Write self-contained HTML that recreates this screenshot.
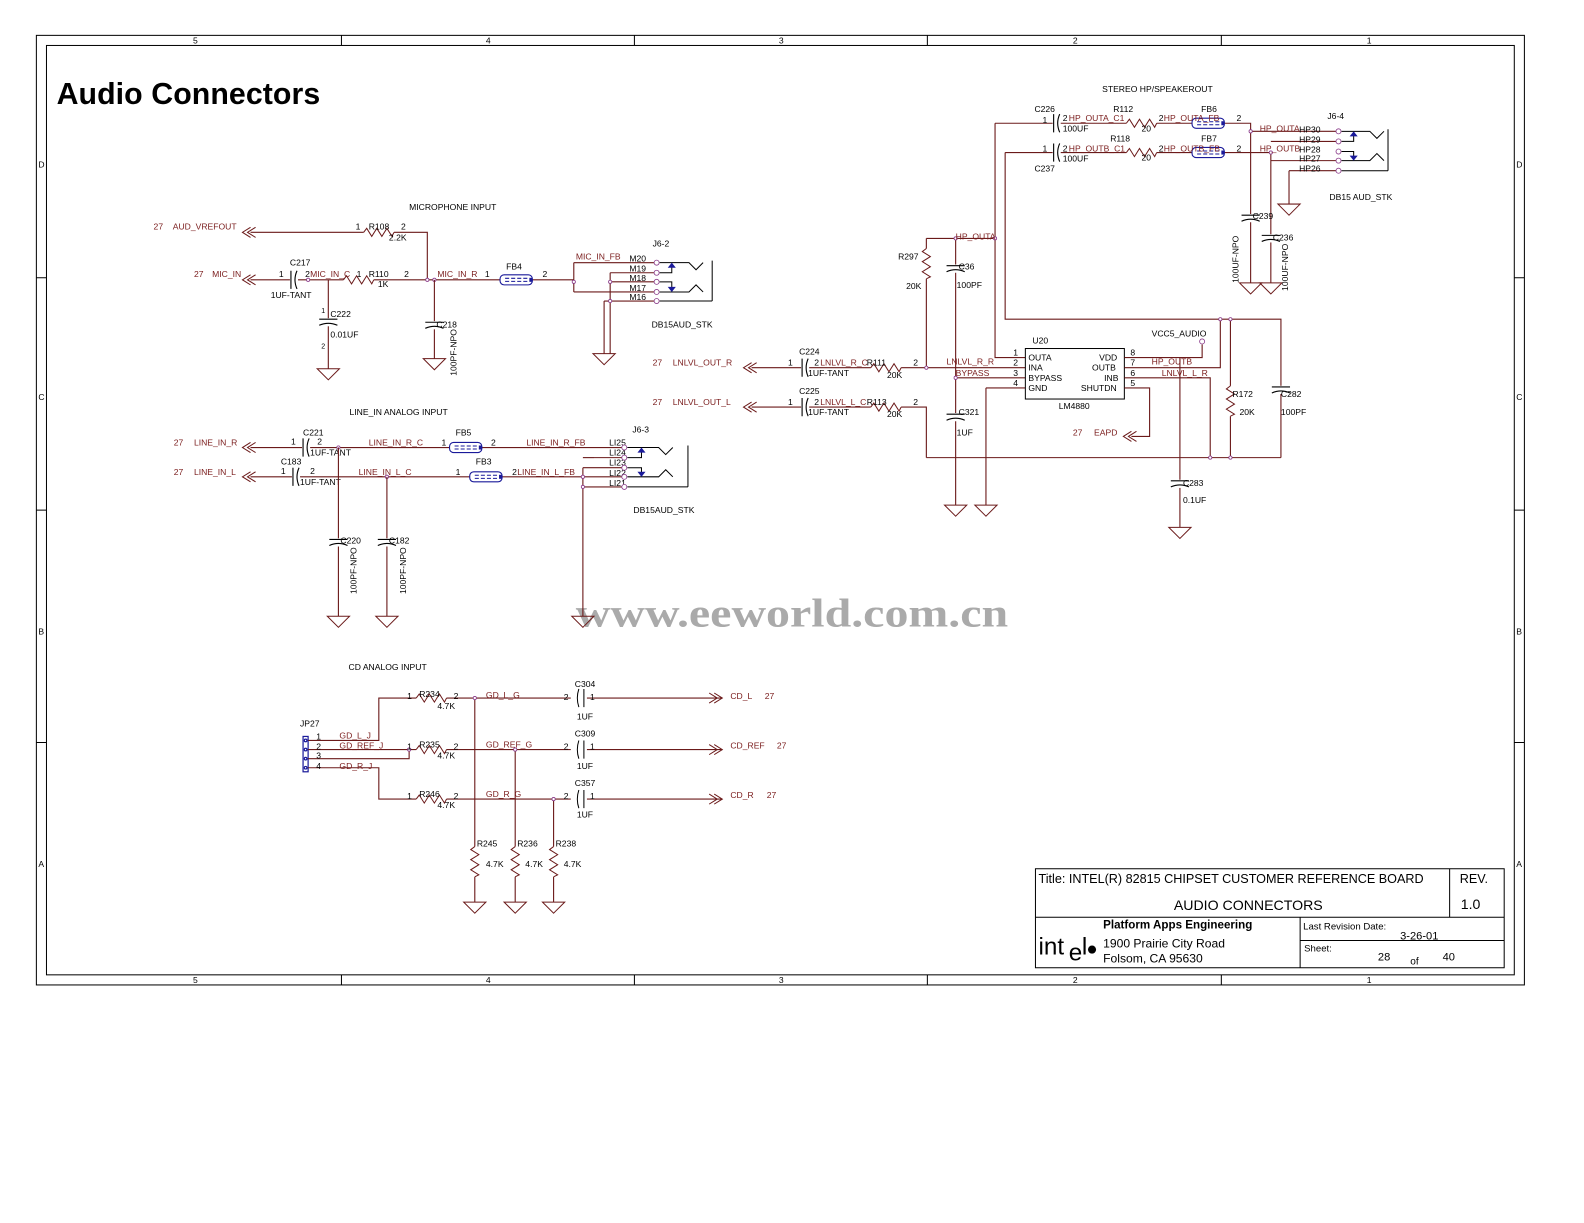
<!DOCTYPE html>
<html><head><meta charset="utf-8"><style>
html,body{margin:0;padding:0;background:#fff;}
svg{display:block;}
text{font-family:"Liberation Sans",sans-serif;font-size:8.5px;fill:#000;}
.n{fill:#7a1c1c;}
.w{stroke:#6b1a1a;stroke-width:1.1;fill:none;}
.k{stroke:#000;stroke-width:1;fill:none;}
.b{stroke:#1a1a9a;stroke-width:1.2;fill:none;}
.d{fill:#fff;stroke:#8a3a8a;stroke-width:0.8;}
</style></head><body>
<svg width="1584" height="1223" viewBox="0 0 1584 1223" xmlns="http://www.w3.org/2000/svg">
<defs>
<path id="gnd" d="M-11,0 H11 L0,11 Z" fill="none" stroke="#6b1a1a" stroke-width="1"/>
<path id="rh" d="M0,0 l3,-4 l5,8 l5,-8 l5,8 l5,-8 l5,8 l2,-4" fill="none" stroke="#6b1a1a" stroke-width="1"/>
<path id="rv" d="M0,0 l-4,3 l8,5 l-8,5 l8,5 l-8,5 l8,5 l-4,2" fill="none" stroke="#6b1a1a" stroke-width="1"/>
<g id="ch"><rect x="-2" y="-10" width="8" height="20" fill="#fff" stroke="none"/><path d="M-1,-9 V9 M5,-9 Q1,0 5,9" fill="none" stroke="#000" stroke-width="1.1"/></g>
<g id="cv"><rect x="-10" y="-2" width="20" height="8" fill="#fff" stroke="none"/><path d="M-9,-1 H9 M-9,5 Q0,1 9,5" fill="none" stroke="#000" stroke-width="1.1"/></g>
<g id="fb"><rect x="0" y="-5" width="32" height="10" rx="4" fill="#fff" stroke="#1a1a9a" stroke-width="1.1"/><path d="M5,-1.5 H27 M5,1.5 H27" stroke="#1a1a9a" stroke-width="1" stroke-dasharray="4,2"/><rect x="29" y="-2" width="3" height="4" fill="#1a1a9a"/></g>
<path id="arr" d="M8,-5 L0,0 L8,5 M13,-5 L5,0 L13,5" fill="none" stroke="#6b1a1a" stroke-width="1"/>
<path id="arrr" d="M-8,-5 L0,0 L-8,5 M-13,-5 L-5,0 L-13,5" fill="none" stroke="#6b1a1a" stroke-width="1"/>
</defs>
<g transform="scale(1.0102)">
<rect x="36" y="35" width="1473" height="940" fill="none" stroke="#000" stroke-width="1"/>
<rect x="46" y="45" width="1453" height="920" fill="none" stroke="#000" stroke-width="1"/>
<path class="k" d="M338,35V45 M628,35V45 M918,35V45 M1209,35V45 M338,965V975 M628,965V975 M918,965V975 M1209,965V975 M36,275H46 M36,505H46 M36,735H46 M1499,275H1509 M1499,505H1509 M1499,735H1509"/>
<g style="font-size:7px">
<text x="191" y="43">5</text><text x="481" y="43">4</text><text x="771" y="43">3</text><text x="1062" y="43">2</text><text x="1353" y="43">1</text>
<text x="191" y="973">5</text><text x="481" y="973">4</text><text x="771" y="973">3</text><text x="1062" y="973">2</text><text x="1353" y="973">1</text>
<text x="38" y="166">D</text><text x="38" y="396">C</text><text x="38" y="628">B</text><text x="38" y="858">A</text>
<text x="1501" y="166">D</text><text x="1501" y="396">C</text><text x="1501" y="628">B</text><text x="1501" y="858">A</text>
</g>
<text x="56" y="103" style="font-size:30px;font-weight:bold" textLength="261">Audio Connectors</text>

<text x="570" y="620" style="font-family:'Liberation Serif',serif;font-size:40px;font-weight:bold;fill:#aaa" textLength="428" lengthAdjust="spacingAndGlyphs">www.eeworld.com.cn</text>

<!-- MICROPHONE -->
<text x="405" y="208">MICROPHONE INPUT</text>
<text class="n" x="152" y="227">27</text><text class="n" x="171" y="227">AUD_VREFOUT</text>
<use href="#arr" x="240" y="230"/>
<path class="w" d="M248,230H360 M390,230H423V277"/>
<use href="#rh" x="360" y="230"/>
<text x="365" y="227">R108</text><text x="352" y="227">1</text><text x="397" y="227">2</text><text x="385" y="238">2.2K</text>
<text class="n" x="192" y="274">27</text><text class="n" x="210" y="274">MIC_IN</text>
<use href="#arr" x="240" y="277"/>
<path class="w" d="M248,277H288 M294,277H340 M370,277H497 M527,277H568"/>
<use href="#ch" x="289" y="277"/>
<text x="287" y="263">C217</text><text x="276" y="274">1</text><text x="302" y="274">2</text><text class="n" x="307" y="274">MIC_IN_C</text>
<text x="268" y="295">1UF-TANT</text>
<use href="#rh" x="340" y="277"/>
<text x="365" y="274">R110</text><text x="353" y="274">1</text><text x="400" y="274">2</text><text x="374" y="284">1K</text>
<text class="n" x="433" y="274">MIC_IN_R</text><text x="480" y="274">1</text><text x="537" y="274">2</text>
<use href="#fb" x="495" y="277"/><text x="501" y="267">FB4</text>
<circle class="d" cx="305" cy="277" r="1.6"/><circle class="d" cx="423" cy="277" r="1.6"/><circle class="d" cx="430" cy="277" r="1.6"/>
<path class="w" d="M325,277V316 M325,322V365 M430,277V318 M430,324V355"/>
<use href="#cv" x="325" y="317"/><use href="#cv" x="430" y="320"/>
<use href="#gnd" x="325" y="365"/><use href="#gnd" x="430" y="355"/>
<text x="327" y="314">C222</text><text x="327" y="334">0.01UF</text><text x="318" y="310" style="font-size:7px">1</text><text x="318" y="345" style="font-size:7px">2</text>
<text x="432" y="324">C218</text><text x="452" y="372" transform="rotate(-90 452 372)">100PF-NPO</text>
<path class="w" d="M568,260V289 M568,260H650 M568,289H650 M604,270H650 M604,279H650 M604,270V350 M598,298H650"/>
<use href="#gnd" x="598" y="350"/><path class="w" d="M598,298V350"/>
<circle class="d" cx="568" cy="279" r="1.6"/><circle class="d" cx="604" cy="279" r="1.6"/><circle class="d" cx="604" cy="298" r="1.6"/>
<text class="n" x="570" y="257">MIC_IN_FB</text>
<text x="623" y="259">M20</text><text x="623" y="269">M19</text><text x="623" y="278">M18</text><text x="623" y="288">M17</text><text x="623" y="297">M16</text>
<text x="646" y="244">J6-2</text><text x="645" y="324">DB15AUD_STK</text>
<g class="k"><path d="M653,260H682L689,267L696,260 M653,270H665V262 M653,279H665V287 M653,289H682L689,282L696,289 M653,298H705 M705,258V298"/></g>
<path d="M661,265L665,260L669,265Z M661,284L665,289L669,284Z" fill="#1a1a9a"/>
<g class="d"><circle cx="650" cy="260" r="2.5"/><circle cx="650" cy="270" r="2.5"/><circle cx="650" cy="279" r="2.5"/><circle cx="650" cy="289" r="2.5"/><circle cx="650" cy="298" r="2.5"/></g>

<!-- LINE IN -->
<text x="346" y="411">LINE_IN ANALOG INPUT</text>
<text class="n" x="172" y="441">27</text><text class="n" x="192" y="441">LINE_IN_R</text>
<text class="n" x="172" y="470">27</text><text class="n" x="192" y="470">LINE_IN_L</text>
<use href="#arr" x="240" y="443"/><use href="#arr" x="240" y="472"/>
<path class="w" d="M248,443H300 M306,443H445 M477,443H618 M248,472H290 M296,472H465 M497,472H618"/>
<use href="#ch" x="301" y="443"/><use href="#ch" x="291" y="472"/>
<text x="300" y="431">C221</text><text x="288" y="440">1</text><text x="314" y="440">2</text><text x="307" y="451">1UF-TANT</text>
<text x="278" y="460">C183</text><text x="278" y="469">1</text><text x="307" y="469">2</text><text x="297" y="480">1UF-TANT</text>
<text class="n" x="365" y="441">LINE_IN_R_C</text><text x="437" y="441">1</text><text x="486" y="441">2</text>
<text class="n" x="355" y="470">LINE_IN_L_C</text><text x="451" y="470">1</text><text x="507" y="470">2</text>
<use href="#fb" x="445" y="443"/><use href="#fb" x="465" y="472"/>
<text x="451" y="431">FB5</text><text x="471" y="460">FB3</text>
<text class="n" x="521" y="441">LINE_IN_R_FB</text><text class="n" x="512" y="470">LINE_IN_L_FB</text>
<circle class="d" cx="335" cy="443" r="1.6"/><circle class="d" cx="383" cy="472" r="1.6"/>
<path class="w" d="M335,443V533 M335,539V610 M383,472V533 M383,539V610"/>
<use href="#cv" x="335" y="535"/><use href="#cv" x="383" y="535"/>
<use href="#gnd" x="335" y="610"/><use href="#gnd" x="383" y="610"/>
<text x="337" y="538">C220</text><text x="385" y="538">C182</text>
<text x="353" y="588" transform="rotate(-90 353 588)">100PF-NPO</text><text x="402" y="588" transform="rotate(-90 402 588)">100PF-NPO</text>
<path class="w" d="M577,463V610 M577,463H618 M577,482H618 M588,453H618"/>
<path class="w" d="M577,453H588"/>
<use href="#gnd" x="577" y="610"/>
<circle class="d" cx="577" cy="472" r="1.6"/><circle class="d" cx="577" cy="482" r="1.6"/>
<text x="603" y="441">LI25</text><text x="603" y="451">LI24</text><text x="603" y="461">LI23</text><text x="603" y="471">LI22</text><text x="603" y="481">LI21</text>
<text x="626" y="428">J6-3</text><text x="627" y="508">DB15AUD_STK</text>
<g class="k"><path d="M621,443H652L659,450L666,443 M621,453H635V446 M621,463H635V470 M621,472H652L659,465L666,472 M621,482H681 M681,441V482"/></g>
<path d="M631,448L635,443L639,448Z M631,467L635,472L639,467Z" fill="#1a1a9a"/>
<g class="d"><circle cx="618" cy="443" r="2.5"/><circle cx="618" cy="453" r="2.5"/><circle cx="618" cy="463" r="2.5"/><circle cx="618" cy="472" r="2.5"/><circle cx="618" cy="482" r="2.5"/></g>

<!-- LNLVL / U20 -->
<text class="n" x="646" y="362">27</text><text class="n" x="666" y="362">LNLVL_OUT_R</text>
<text class="n" x="646" y="401">27</text><text class="n" x="666" y="401">LNLVL_OUT_L</text>
<use href="#arr" x="736" y="364"/><use href="#arr" x="736" y="403"/>
<path class="w" d="M744,364H794 M800,364H862 M892,364H1015 M744,403H794 M800,403H862 M892,403H917V453"/>
<use href="#ch" x="795" y="364"/><use href="#ch" x="795" y="403"/>
<use href="#rh" x="862" y="364"/><use href="#rh" x="862" y="403"/>
<text x="791" y="351">C224</text><text x="780" y="362">1</text><text x="806" y="362">2</text><text class="n" x="812" y="362">LNLVL_R_C</text><text x="800" y="372">1UF-TANT</text>
<text x="791" y="390">C225</text><text x="780" y="401">1</text><text x="806" y="401">2</text><text class="n" x="812" y="401">LNLVL_L_C</text><text x="800" y="411">1UF-TANT</text>
<text x="858" y="362">R111</text><text x="878" y="374">20K</text><text x="904" y="362">2</text>
<text x="858" y="401">R113</text><text x="878" y="413">20K</text><text x="904" y="401">2</text>
<path class="w" d="M917,236H985 M917,236V246 M917,276V364 M946,236V262 M946,268V409 M946,415V500 M946,374H1015 M976,384H1015 M976,384V500 M985,122V354H1015"/>
<use href="#rv" x="917" y="246"/><use href="#cv" x="946" y="264"/><use href="#cv" x="946" y="411"/>
<use href="#gnd" x="946" y="500"/><use href="#gnd" x="976" y="500"/>
<circle class="d" cx="917" cy="364" r="1.6"/><circle class="d" cx="946" cy="236" r="1.6"/><circle class="d" cx="985" cy="236" r="1.6"/><circle class="d" cx="946" cy="374" r="1.6"/>
<text class="n" x="946" y="237">HP_OUTA</text>
<text x="889" y="257">R297</text><text x="897" y="286">20K</text>
<text x="949" y="267">C36</text><text x="947" y="285">100PF</text>
<text x="949" y="411">C321</text><text x="947" y="431">1UF</text>
<text class="n" x="937" y="361">LNLVL_R_R</text><text class="n" x="946" y="372">BYPASS</text>
<rect x="1015" y="345" width="98" height="50" fill="none" stroke="#000" stroke-width="1"/>
<text x="1022" y="340">U20</text><text x="1048" y="405">LM4880</text>
<g style="font-size:8px">
<text x="1018" y="357">OUTA</text><text x="1018" y="367">INA</text><text x="1018" y="377">BYPASS</text><text x="1018" y="387">GND</text>
<text x="1088" y="357">VDD</text><text x="1081" y="367">OUTB</text><text x="1093" y="377">INB</text><text x="1070" y="387">SHUTDN</text>
<text x="1003" y="352">1</text><text x="1003" y="362">2</text><text x="1003" y="372">3</text><text x="1003" y="382">4</text>
<text x="1119" y="352">8</text><text x="1119" y="362">7</text><text x="1119" y="372">6</text><text x="1119" y="382">5</text>
</g>
<path class="w" d="M1113,354H1190V341 M1113,364H1208V316 M1113,374H1198V453 M1113,384H1138V432H1120 M995,151V316H1268V382 M1268,388V453 M917,453H1268 M1218,316V382 M1218,412V453 M1168,354V475 M1168,481V522"/>
<circle class="d" cx="1190" cy="338" r="2.5"/>
<text x="1140" y="333">VCC5_AUDIO</text>
<text class="n" x="1140" y="361">HP_OUTB</text><text class="n" x="1150" y="372">LNLVL_L_R</text>
<use href="#arr" x="1112" y="432"/><text class="n" x="1062" y="431">27</text><text class="n" x="1083" y="431">EAPD</text>
<use href="#rv" x="1218" y="382"/><use href="#cv" x="1268" y="384"/><use href="#cv" x="1168" y="477"/>
<use href="#gnd" x="1168" y="522"/>
<circle class="d" cx="1208" cy="316" r="1.6"/><circle class="d" cx="1218" cy="316" r="1.6"/><circle class="d" cx="1198" cy="453" r="1.6"/><circle class="d" cx="1218" cy="453" r="1.6"/>
<text x="1220" y="393">R172</text><text x="1227" y="411">20K</text>
<text x="1268" y="393">C282</text><text x="1268" y="411">100PF</text>
<text x="1171" y="481">C283</text><text x="1171" y="498">0.1UF</text>

<!-- STEREO HP -->
<text x="1091" y="91">STEREO HP/SPEAKEROUT</text>
<path class="w" d="M985,122H1043 M1049,122H1115 M1145,122H1180 M1212,122H1238V212 M1238,218V280 M995,151H1043 M1049,151H1115 M1145,151H1180 M1212,151H1258V232 M1258,238V280 M1238,130H1325 M1258,140H1325 M1258,159H1325 M1276,169H1325 M1276,169V202"/>
<use href="#ch" x="1044" y="122"/><use href="#ch" x="1044" y="151"/>
<use href="#rh" x="1115" y="122"/><use href="#rh" x="1115" y="151"/>
<use href="#fb" x="1180" y="122"/><use href="#fb" x="1180" y="151"/>
<use href="#cv" x="1238" y="214"/><use href="#cv" x="1258" y="234"/>
<use href="#gnd" x="1238" y="280"/><use href="#gnd" x="1258" y="280"/><use href="#gnd" x="1276" y="202"/>
<circle class="d" cx="1238" cy="130" r="1.6"/><circle class="d" cx="1258" cy="151" r="1.6"/>
<text x="1024" y="111">C226</text><text x="1032" y="122">1</text><text x="1052" y="120">2</text><text class="n" x="1058" y="120">HP_OUTA_C1</text><text x="1052" y="130">100UF</text>
<text x="1024" y="170">C237</text><text x="1032" y="150">1</text><text x="1052" y="150">2</text><text class="n" x="1058" y="150">HP_OUTB_C1</text><text x="1052" y="160">100UF</text>
<text x="1102" y="111">R112</text><text x="1130" y="130">20</text><text x="1099" y="140">R118</text><text x="1130" y="159">20</text>
<text x="1147" y="120">2</text><text class="n" x="1152" y="120">HP_OUTA_FB</text><text x="1147" y="150">2</text><text class="n" x="1152" y="150">HP_OUTB_FB</text>
<text x="1189" y="111">FB6</text><text x="1189" y="140">FB7</text><text x="1224" y="120">2</text><text x="1224" y="150">2</text>
<text class="n" x="1247" y="130">HP_OUTA</text><text class="n" x="1247" y="150">HP_OUTB</text>
<text x="1286" y="131">HP30</text><text x="1286" y="141">HP29</text><text x="1286" y="151">HP28</text><text x="1286" y="160">HP27</text><text x="1286" y="170">HP26</text>
<text x="1314" y="118">J6-4</text><text x="1316" y="198">DB15 AUD_STK</text>
<g class="k"><path d="M1328,130H1356L1363,137L1370,130 M1328,140H1340V133 M1328,150H1340V157 M1328,159H1356L1363,152L1370,159 M1328,169H1374 M1374,128V169"/></g>
<path d="M1336,135L1340,130L1344,135Z M1336,154L1340,159L1344,154Z" fill="#1a1a9a"/>
<g class="d"><circle cx="1325" cy="130" r="2.5"/><circle cx="1325" cy="140" r="2.5"/><circle cx="1325" cy="150" r="2.5"/><circle cx="1325" cy="159" r="2.5"/><circle cx="1325" cy="169" r="2.5"/></g>
<text x="1240" y="217">C239</text><text x="1260" y="238">C236</text>
<text x="1226" y="280" transform="rotate(-90 1226 280)">100UF-NPO</text><text x="1275" y="288" transform="rotate(-90 1275 288)">100UF-NPO</text>

<!-- CD -->
<text x="345" y="663">CD ANALOG INPUT</text>
<text x="297" y="719">JP27</text>
<rect x="300" y="729" width="5" height="35" fill="#fff" stroke="#1a1a9a" stroke-width="1.2"/>
<g class="b"><circle cx="302.5" cy="733" r="1.3"/><circle cx="302.5" cy="742" r="1.3"/><circle cx="302.5" cy="751" r="1.3"/><circle cx="302.5" cy="760" r="1.3"/></g>
<path class="w" d="M305,733H375V691H412 M442,691H565 M581,691H715 M305,742H412 M305,751H405V742 M442,742H565 M581,742H715 M305,760H375V791H412 M442,791H565 M581,791H715 M470,691V838 M470,868V893 M510,742V838 M510,868V893 M548,791V838 M548,868V893"/>
<use href="#rh" x="412" y="691"/><use href="#rh" x="412" y="742"/><use href="#rh" x="412" y="791"/>
<use href="#rv" x="470" y="838"/><use href="#rv" x="510" y="838"/><use href="#rv" x="548" y="838"/>
<g><rect x="569" y="680" width="8" height="22" fill="#fff"/><rect x="569" y="731" width="8" height="22" fill="#fff"/><rect x="569" y="780" width="8" height="22" fill="#fff"/></g>
<path class="k" d="M578,682V700 M578,733V751 M578,782V800 M573,682Q570,691 573,700 M573,733Q570,742 573,751 M573,782Q570,791 573,800"/>
<use href="#gnd" x="470" y="893"/><use href="#gnd" x="510" y="893"/><use href="#gnd" x="548" y="893"/>
<circle class="d" cx="470" cy="691" r="1.6"/><circle class="d" cx="405" cy="742" r="1.6"/><circle class="d" cx="510" cy="742" r="1.6"/><circle class="d" cx="548" cy="791" r="1.6"/>
<text x="313" y="732">1</text><text x="313" y="742">2</text><text x="313" y="751">3</text><text x="313" y="761">4</text>
<text class="n" x="336" y="731">GD_L_J</text><text class="n" x="336" y="741">GD_REF_J</text><text class="n" x="336" y="761">GD_R_J</text>
<text x="403" y="692">1</text><text x="415" y="690">R234</text><text x="449" y="692">2</text><text x="433" y="702">4.7K</text>
<text x="403" y="742">1</text><text x="415" y="740">R235</text><text x="449" y="742">2</text><text x="433" y="751">4.7K</text>
<text x="403" y="791">1</text><text x="415" y="789">R246</text><text x="449" y="791">2</text><text x="433" y="800">4.7K</text>
<text class="n" x="481" y="691">GD_L_G</text><text class="n" x="481" y="740">GD_REF_G</text><text class="n" x="481" y="789">GD_R_G</text>
<text x="558" y="693">2</text><text x="584" y="693">1</text><text x="569" y="680">C304</text><text x="571" y="712">1UF</text>
<text x="558" y="742">2</text><text x="584" y="742">1</text><text x="569" y="729">C309</text><text x="571" y="761">1UF</text>
<text x="558" y="791">2</text><text x="584" y="791">1</text><text x="569" y="778">C357</text><text x="571" y="809">1UF</text>
<use href="#arrr" x="715" y="691"/><use href="#arrr" x="715" y="742"/><use href="#arrr" x="715" y="791"/>
<text class="n" x="723" y="692">CD_L</text><text class="n" x="757" y="692">27</text>
<text class="n" x="723" y="741">CD_REF</text><text class="n" x="769" y="741">27</text>
<text class="n" x="723" y="790">CD_R</text><text class="n" x="759" y="790">27</text>
<text x="472" y="838">R245</text><text x="481" y="858">4.7K</text><text x="512" y="838">R236</text><text x="520" y="858">4.7K</text><text x="550" y="838">R238</text><text x="558" y="858">4.7K</text>

<!-- title block -->
<path class="k" d="M1025,860H1489V958H1025Z M1025,908H1489 M1435,860V908 M1287,908V958 M1287,931H1489"/>
<text x="1028" y="874" style="font-size:12.5px">Title: INTEL(R) 82815 CHIPSET CUSTOMER REFERENCE BOARD</text>
<text x="1445" y="874" style="font-size:12.5px">REV.</text>
<text x="1162" y="901" style="font-size:14px">AUDIO CONNECTORS</text>
<text x="1446" y="900" style="font-size:14px">1.0</text>
<text x="1092" y="919" style="font-size:11.5px;font-weight:bold">Platform Apps Engineering</text>
<text x="1092" y="938" style="font-size:12px">1900 Prairie City Road</text>
<text x="1092" y="953" style="font-size:12px">Folsom, CA  95630</text>
<text x="1028" y="945" style="font-size:24px">int</text><text x="1058" y="951" style="font-size:24px">e</text><text x="1071" y="945" style="font-size:24px">l</text>
<circle cx="1081" cy="940" r="4" fill="#000"/>
<text x="1290" y="920" style="font-size:9.5px">Last Revision Date:</text>
<text x="1386" y="930" style="font-size:11px">3-26-01</text>
<text x="1291" y="942" style="font-size:9.5px">Sheet:</text>
<text x="1364" y="951" style="font-size:11px">28</text><text x="1396" y="955" style="font-size:10px">of</text><text x="1428" y="951" style="font-size:11px">40</text>
</g>
</svg>
</body></html>
